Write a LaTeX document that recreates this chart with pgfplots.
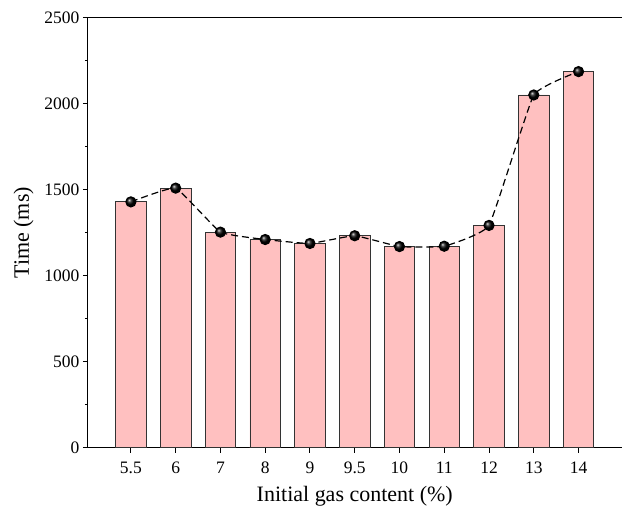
\documentclass[border=0pt]{standalone}
\usepackage{pgfplots}
\pgfplotsset{compat=1.18}
\usepackage{fontspec}
\setmainfont{Liberation Serif}
\definecolor{barpink}{HTML}{FFC0C0}
\begin{document}
\begin{tikzpicture}
\begin{axis}[
  name=ax,
  scale only axis,
  width=534pt, height=430pt,
  xmin=-0.96, xmax=10.96,
  ymin=0, ymax=2500,
  axis lines=left,
  axis line style={-, line width=1pt},
  xtick={0,...,10},
  xticklabels={5.5,6,7,8,9,9.5,10,11,12,13,14},
  ytick={0,500,1000,1500,2000,2500},
  minor ytick={250,750,1250,1750,2250},
  tick align=outside,
  major tick length=5pt,
  minor tick length=3pt,
  tick style={black, line width=1pt},
  ticklabel style={font=\fontsize{17.5}{20}\selectfont},
  xticklabel style={yshift=-6pt},
  /pgf/number format/assume math mode=true,
  /pgf/number format/1000 sep={},
  xlabel={Initial gas content (\%)},
  ylabel={Time (ms)},
  label style={font=\fontsize{22}{26}\selectfont},
  xlabel style={yshift=-5pt},
  ylabel style={yshift=4pt},
  clip=false,
]
\addplot[ybar, bar width=30.5pt, fill=barpink, draw=black!80, line width=0.8pt]
  coordinates {(0,1430) (1,1510) (2,1254) (3,1211) (4,1188) (5,1233) (6,1170) (7,1172) (8,1293) (9,2052) (10,2188)};
\addplot[smooth, tension=0.2, black, line width=1.2pt, dash pattern=on 7pt off 4pt,
  mark=ball, mark size=5pt, mark options={solid, ball color=black}]
  coordinates {(0,1430) (1,1510) (2,1254) (3,1211) (4,1188) (5,1233) (6,1170) (7,1172) (8,1293) (9,2052) (10,2188)};
\draw[line width=1pt] (rel axis cs:0,1) -- (rel axis cs:1,1);
\end{axis}
\path (ax.south west) ++(-88pt,-64pt) rectangle ++(622pt,512pt);
\end{tikzpicture}
\end{document}
